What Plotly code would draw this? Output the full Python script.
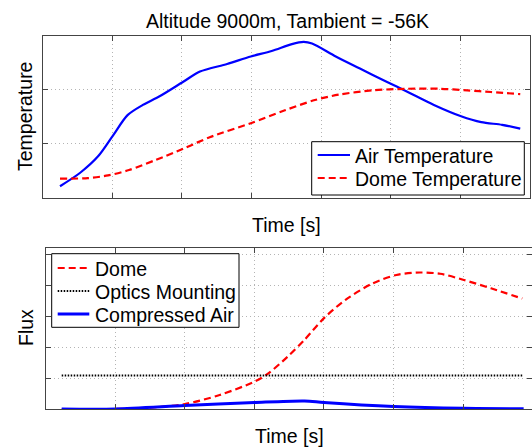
import plotly.graph_objects as go

# ---- data ----
t_air = [0.25, 0.54, 0.80, 1.0, 1.22, 1.44, 1.68, 2.02, 2.26, 2.65, 2.99, 3.29, 3.58, 3.75,
         3.87, 4.21, 4.55, 4.94, 5.23, 5.62, 6.01, 6.30, 6.60, 6.86]
air_temp = [0.21, 0.46, 0.77, 1.13, 1.53, 1.72, 1.88, 2.15, 2.34, 2.48, 2.62, 2.72, 2.85, 2.89,
            2.86, 2.62, 2.40, 2.15, 1.97, 1.72, 1.51, 1.40, 1.35, 1.28]

t_dome = [0.25, 0.65, 0.94, 1.24, 1.63, 2.01, 2.40, 2.99, 3.48, 3.91, 4.25, 4.74, 5.23, 5.71,
          6.10, 6.44, 6.86]
dome_temp = [0.35, 0.36, 0.41, 0.51, 0.70, 0.90, 1.12, 1.38, 1.62, 1.81, 1.91, 1.99, 2.02, 2.02,
             1.99, 1.96, 1.92]

t_flux = [0.23, 1.0, 1.5, 2.0, 2.5, 3.0, 3.19, 3.48, 3.72, 4.0, 4.31, 4.70, 5.04, 5.38, 5.67,
          6.01, 6.40, 6.85]
dome_flux = [0.0, 0.01, 0.05, 0.17, 0.46, 0.89, 1.14, 1.70, 2.24, 2.94, 3.53, 4.06, 4.33, 4.41,
             4.37, 4.17, 3.90, 3.57]

t_optics = [0.23, 6.87]
optics_flux = [1.09, 1.09]

t_air_flux = [0.23, 1.0, 2.0, 3.0, 3.72, 4.0, 5.0, 6.0, 6.87]
air_flux = [0.01, 0.01, 0.12, 0.22, 0.27, 0.22, 0.09, 0.03, 0.02]

title_text = "Altitude 9000m, Tambient = -56K"
top_ylabel = "Temperature"
bottom_ylabel = "Flux"
xlabel = "Time [s]"

W, H = 532, 447
FONT = "Liberation Sans, Arial, sans-serif"
FS = 19.5

RED_DASH = "7px,4px"
DOT = "1.5px,1.5px"

styles = {
    "Air Temperature": dict(color="#0000FF", width=2.2),
    "Dome Temperature": dict(color="#FF0000", width=2.2, dash=RED_DASH),
    "Dome": dict(color="#FF0000", width=2.2, dash=RED_DASH),
    "Optics Mounting": dict(color="#000000", width=2, dash=DOT),
    "Compressed Air": dict(color="#0000FF", width=3),
}

fig = go.Figure()

def add(x, y, name, xa, ya, spline=True):
    ln = dict(styles[name])
    if spline:
        ln.update(shape="spline", smoothing=0.8)
    fig.add_trace(go.Scatter(x=x, y=y, mode="lines", name=name, line=ln,
                             xaxis=xa, yaxis=ya, showlegend=False))

add(t_air, air_temp, "Air Temperature", "x", "y")
add(t_dome, dome_temp, "Dome Temperature", "x", "y")
add(t_flux, dome_flux, "Dome", "x2", "y2")
add(t_optics, optics_flux, "Optics Mounting", "x2", "y2", spline=False)
add(t_air_flux, air_flux, "Compressed Air", "x2", "y2")

axis_common = dict(showticklabels=False, ticks="inside", ticklen=5, tickcolor="#444",
                   showline=True, linecolor="#444", linewidth=1, mirror="ticks",
                   showgrid=True, gridcolor="#b4b4b4", griddash="1px,3px", gridwidth=1,
                   zeroline=False, dtick=1, tick0=0)

def px_x(p):
    return p / W

def px_y(p):
    return 1 - p / H

shapes = []
annotations = []

def legend_box(box, names, sample_x, text_x, rows_y):
    x0, y0, x1, y1 = box
    shapes.append(dict(type="rect", xref="paper", yref="paper",
                       x0=px_x(x0), x1=px_x(x1), y0=px_y(y1), y1=px_y(y0),
                       line=dict(color="black", width=1), fillcolor="white", layer="above"))
    for name, ry in zip(names, rows_y):
        st = styles[name]
        shapes.append(dict(type="line", xref="paper", yref="paper",
                           x0=px_x(sample_x[0]), x1=px_x(sample_x[1]), y0=px_y(ry), y1=px_y(ry),
                           line=dict(color=st["color"], width=st["width"], dash=st.get("dash", "solid")),
                           layer="above"))
        annotations.append(dict(text=name, x=px_x(text_x), y=px_y(ry + 1), xref="paper", yref="paper",
                                xanchor="left", yanchor="middle", showarrow=False,
                                font=dict(size=FS)))

legend_box((311.7, 141.7, 524.3, 195.0), ["Air Temperature", "Dome Temperature"],
           (317.7, 350), 352.5, [155, 178])
legend_box((51.7, 253.7, 239, 327.3), ["Dome", "Optics Mounting", "Compressed Air"],
           (57.7, 89.3), 92.5, [268, 291, 314])

annotations += [
    dict(text=title_text, x=px_x(287), y=px_y(21), xref="paper", yref="paper",
         xanchor="center", yanchor="middle", showarrow=False, font=dict(size=FS)),
    dict(text=top_ylabel, x=px_x(25), y=px_y(117), xref="paper", yref="paper",
         xanchor="center", yanchor="middle", textangle=-90, showarrow=False, font=dict(size=FS)),
    dict(text=xlabel, x=px_x(286), y=px_y(225), xref="paper", yref="paper",
         xanchor="center", yanchor="middle", showarrow=False, font=dict(size=FS)),
    dict(text=bottom_ylabel, x=px_x(26), y=px_y(328), xref="paper", yref="paper",
         xanchor="center", yanchor="middle", textangle=-90, showarrow=False, font=dict(size=FS)),
    dict(text=xlabel, x=px_x(289), y=px_y(436), xref="paper", yref="paper",
         xanchor="center", yanchor="middle", showarrow=False, font=dict(size=FS)),
]

fig.update_layout(
    width=W, height=H,
    margin=dict(l=0, r=0, t=0, b=0),
    paper_bgcolor="white", plot_bgcolor="white",
    font=dict(family=FONT, size=FS, color="black"),
    showlegend=False,
    xaxis=dict(domain=[px_x(42.6), px_x(530)], range=[0, 7], anchor="y", **axis_common),
    yaxis=dict(domain=[px_y(197.5), px_y(36)], range=[0, 3], anchor="x", **axis_common),
    xaxis2=dict(domain=[px_x(45.7), 1.0], range=[0, 6.99], anchor="y2", **axis_common),
    yaxis2=dict(domain=[px_y(409.3), px_y(248.3)], range=[0, 5.19], anchor="x2", **axis_common),
    shapes=shapes,
    annotations=annotations,
)

fig.write_html("out.html")
